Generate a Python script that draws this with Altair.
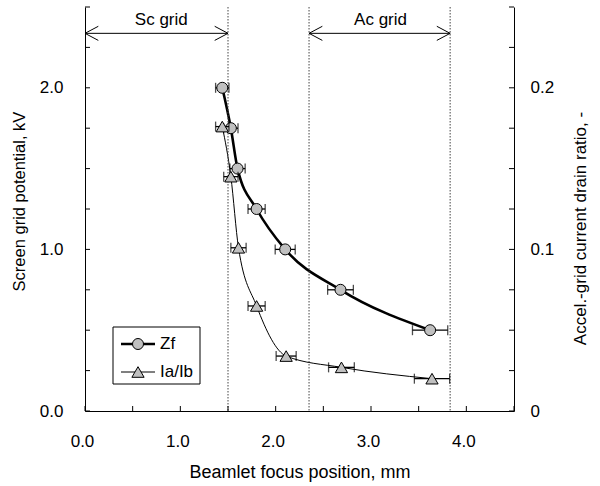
import altair as alt
import pandas as pd

# ---- data ----
pos_zf = [1.44, 1.53, 1.60, 1.80, 2.10, 2.68, 3.62]
zf_kv = [2.00, 1.75, 1.50, 1.25, 1.00, 0.75, 0.50]
err_zf = [0.07, 0.075, 0.08, 0.09, 0.105, 0.135, 0.185]

pos_ratio = [1.44, 1.53, 1.61, 1.80, 2.11, 2.69, 3.64]
ia_ib = [0.176, 0.145, 0.101, 0.065, 0.034, 0.027, 0.020]
err_ratio = [0.07, 0.075, 0.08, 0.09, 0.105, 0.135, 0.185]

grid_lines = [1.5, 2.35, 3.83]
region_names = ["Sc grid", "Ac grid"]
region_start = [0.0, 2.35]
region_end = [1.5, 3.83]
region_label_x = [0.80, 3.10]
arrow_level = [2.337, 2.337]
label_level = [2.389, 2.389]

x_ticks = [0.0, 0.5, 1.0, 1.5, 2.0, 2.5, 3.0, 3.5, 4.0, 4.5]
x_labels = [0, 1, 2, 3, 4]
left_ticks = [0.0, 0.25, 0.5, 0.75, 1.0, 1.25, 1.5, 1.75, 2.0, 2.25, 2.5]
left_labels = [0, 1, 2]
right_ticks = [0.0, 0.025, 0.05, 0.075, 0.1, 0.125, 0.15, 0.175, 0.2, 0.225, 0.25]
right_labels = [0, 0.1, 0.2]
legend_names = ["Zf", "Ia/Ib"]

W, H = 429, 404
FONT = "Liberation Sans"
GREY = "#c0c0c0"

dzf = pd.DataFrame({"x": pos_zf, "y": zf_kv, "e": err_zf})
dzf["lo"] = dzf["x"] - dzf["e"]
dzf["hi"] = dzf["x"] + dzf["e"]
drt = pd.DataFrame({"x": pos_ratio, "y": ia_ib, "e": err_ratio})
drt["lo"] = drt["x"] - drt["e"]
drt["hi"] = drt["x"] + drt["e"]
dreg = pd.DataFrame({"name": region_names, "start": region_start, "end": region_end,
                     "lx": region_label_x, "ay": arrow_level, "ly": label_level})
one = pd.DataFrame({"a": [0]})

xs = alt.Scale(domain=[0, 4.5], nice=False, zero=False)
yl = alt.Scale(domain=[0, 2.5], nice=False, zero=False)
yr = alt.Scale(domain=[0, 0.25], nice=False, zero=False)

x_axis = alt.Axis(orient="bottom", values=x_labels, format=".1f", ticks=False, tickSize=0,
                  labelPadding=22, labelOffset=-3, labelFlush=False, grid=False,
                  title="Beamlet focus position, mm", titleFontSize=18,
                  titleX=214.5, titleY=66.5, titleAlign="center", titleBaseline="alphabetic")
left_axis = alt.Axis(orient="left", values=left_labels, format=".1f", ticks=False, tickSize=0,
                     labelPadding=22, labelFlush=False, grid=False,
                     title="Screen grid potential, kV", titleFontSize=16.5,
                     titleAngle=270, titleX=-61, titleY=194,
                     titleAlign="center", titleBaseline="alphabetic")
right_axis = alt.Axis(orient="right", values=right_labels, ticks=False, tickSize=0, labelPadding=16,
                      labelFlush=False, grid=False,
                      labelExpr="datum.value == 0 ? '0' : format(datum.value, '.1f')",
                      title="Accel.-grid current drain ratio, -", titleFontSize=17,
                      titleAngle=270, titleX=71, titleY=221,
                      titleAlign="center", titleBaseline="alphabetic")


def X(field):
    return alt.X(field, scale=xs, axis=x_axis)


# ---- left (Zf) series ----
zf_base = alt.Chart(dzf)
zf_line = zf_base.mark_line(color="black", strokeWidth=2.6, interpolate="monotone").encode(
    x=X("x:Q"), y=alt.Y("y:Q", scale=yl, axis=left_axis))
zf_bar = zf_base.mark_rule(color="black", strokeWidth=1.3).encode(
    x=X("lo:Q"), x2="hi:Q", y=alt.Y("y:Q", scale=yl, axis=None))
zf_caps = zf_base.transform_fold(["lo", "hi"], as_=["side", "xe"]).mark_tick(
    orient="vertical", color="black", size=10, thickness=1.3).encode(
    x=X("xe:Q"), y=alt.Y("y:Q", scale=yl, axis=None))
zf_pts = zf_base.mark_point(shape="circle", size=121, filled=True, fill=GREY, stroke="black",
                            strokeWidth=1, opacity=1).encode(
    x=X("x:Q"), y=alt.Y("y:Q", scale=yl, axis=None))

left_tk = alt.Chart(pd.DataFrame({"v": left_ticks})).mark_rule(color="black", strokeWidth=1).encode(
    y=alt.Y("v:Q", scale=yl, axis=None), x=alt.value(0), x2=alt.value(5))
bottom_tk = alt.Chart(pd.DataFrame({"v": x_ticks})).mark_rule(color="black", strokeWidth=1).encode(
    x=X("v:Q"), y=alt.value(H - 5), y2=alt.value(H))
dotted = alt.Chart(pd.DataFrame({"v": grid_lines})).mark_rule(
    color="#444444", strokeWidth=1, strokeDash=[1.5, 1.5]).encode(
    x=X("v:Q"), y=alt.value(0), y2=alt.value(H))

reg = alt.Chart(dreg)
shaft = reg.mark_rule(color="black", strokeWidth=1).encode(
    x=X("start:Q"), x2="end:Q", y=alt.Y("ay:Q", scale=yl, axis=None))
head_l = reg.mark_point(shape="M0,0L1,-0.53M0,0L1,0.53", size=708, filled=False,
                        color="black", strokeWidth=1, opacity=1).encode(
    x=X("start:Q"), y=alt.Y("ay:Q", scale=yl, axis=None))
head_r = reg.mark_point(shape="M0,0L-1,-0.53M0,0L-1,0.53", size=708, filled=False,
                        color="black", strokeWidth=1, opacity=1).encode(
    x=X("end:Q"), y=alt.Y("ay:Q", scale=yl, axis=None))
reg_txt = reg.mark_text(font=FONT, fontSize=17, color="black", align="center",
                        baseline="alphabetic").encode(
    x=X("lx:Q"), y=alt.Y("ly:Q", scale=yl, axis=None), text="name:N")

# ---- right (Ia/Ib) series ----
rt_base = alt.Chart(drt)
rt_line = rt_base.mark_line(color="black", strokeWidth=1, interpolate="monotone").encode(
    x=X("x:Q"), y=alt.Y("y:Q", scale=yr, axis=right_axis))
rt_bar = rt_base.mark_rule(color="black", strokeWidth=1.3).encode(
    x=X("lo:Q"), x2="hi:Q", y=alt.Y("y:Q", scale=yr, axis=None))
rt_caps = rt_base.transform_fold(["lo", "hi"], as_=["side", "xe"]).mark_tick(
    orient="vertical", color="black", size=10, thickness=1.3).encode(
    x=X("xe:Q"), y=alt.Y("y:Q", scale=yr, axis=None))
rt_pts = rt_base.mark_point(shape="triangle-up", size=150, filled=True, fill=GREY, stroke="black",
                            strokeWidth=1, opacity=1).encode(
    x=X("x:Q"), y=alt.Y("y:Q", scale=yr, axis=None))
right_tk = alt.Chart(pd.DataFrame({"v": right_ticks})).mark_rule(color="black", strokeWidth=1).encode(
    y=alt.Y("v:Q", scale=yr, axis=None), x=alt.value(W - 5), x2=alt.value(W))

# ---- legend (drawn by hand) ----
base1 = alt.Chart(one)
leg_box = base1.mark_rect(fill="white", stroke="black", strokeWidth=1).encode(
    x=alt.value(28), x2=alt.value(115), y=alt.value(320), y2=alt.value(377))
leg_l1 = base1.mark_rule(color="black", strokeWidth=2.6).encode(
    x=alt.value(36), x2=alt.value(70), y=alt.value(337))
leg_p1 = base1.mark_point(shape="circle", size=121, filled=True, fill=GREY, stroke="black",
                          strokeWidth=1, opacity=1).encode(x=alt.value(53), y=alt.value(337))
leg_t1 = alt.Chart(pd.DataFrame({"name": [legend_names[0]]})).mark_text(
    font=FONT, fontSize=17, color="black", align="left", baseline="middle").encode(
    x=alt.value(75), y=alt.value(337), text="name:N")
leg_l2 = base1.mark_rule(color="black", strokeWidth=1).encode(
    x=alt.value(36), x2=alt.value(70), y=alt.value(365))
leg_p2 = base1.mark_point(shape="triangle-up", size=150, filled=True, fill=GREY, stroke="black",
                          strokeWidth=1, opacity=1).encode(x=alt.value(53), y=alt.value(365))
leg_t2 = alt.Chart(pd.DataFrame({"name": [legend_names[1]]})).mark_text(
    font=FONT, fontSize=17, color="black", align="left", baseline="middle").encode(
    x=alt.value(75), y=alt.value(365), text="name:N")

chart = alt.layer(
    zf_line, rt_line,
    dotted, left_tk, bottom_tk, right_tk, shaft, head_l, head_r, reg_txt,
    zf_bar, zf_caps, zf_pts,
    rt_bar, rt_caps, rt_pts,
    leg_box, leg_l1, leg_p1, leg_t1, leg_l2, leg_p2, leg_t2,
).resolve_scale(y="independent").properties(
    width=W, height=H, background="white",
    autosize=alt.AutoSizeParams(type="none"),
    padding={"left": 85, "top": 7, "right": 86, "bottom": 75},
).configure_view(stroke=None).configure_axis(
    labelFont=FONT, titleFont=FONT, labelFontSize=17, labelColor="black",
    titleColor="black", titleFontWeight="normal", domainColor="black", domainWidth=1,
)

chart.save("out.html", embed_options={"renderer": "svg", "actions": False})
